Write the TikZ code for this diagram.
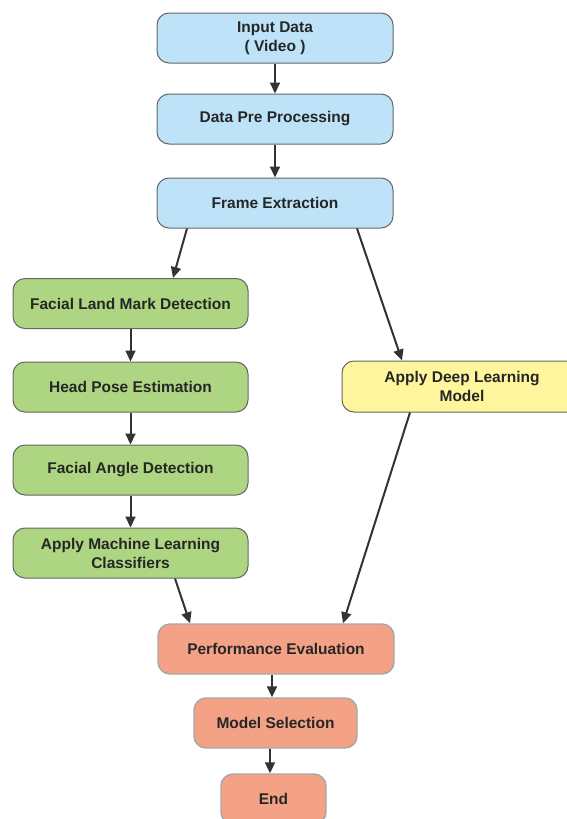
\documentclass[tikz,border=0pt]{standalone}
\usepackage{fontspec}
\setmainfont{Liberation Sans}
\usetikzlibrary{arrows.meta}
\definecolor{cblue}{HTML}{BEE3F8}
\definecolor{cgreen}{HTML}{AED581}
\definecolor{cyellow}{HTML}{FFF59D}
\definecolor{corange}{HTML}{F4A285}
\definecolor{cline}{HTML}{333333}
\begin{document}
\begin{tikzpicture}[x=1pt,y=-1pt,
  box/.style={draw=#1, line width=1pt, rounded corners=12pt, inner sep=0pt, align=center,
    font=\fontsize{15.5}{19}\selectfont\bfseries, text=black!85},
  bluebox/.style={box=gray!80!black, fill=cblue, minimum width=236pt, minimum height=50pt},
  greenbox/.style={box=gray!80!black, fill=cgreen, minimum width=235pt, minimum height=50pt},
  yellowbox/.style={box=gray!80!black, fill=cyellow, minimum width=240pt, minimum height=51pt},
  orangebox/.style={box=gray!70, line width=1.4pt, fill=corange, minimum height=50pt},
  arr/.style={-{Triangle[length=11pt,width=10pt]}, line width=2pt, draw=cline}]
\useasboundingbox (0,0) rectangle (566,819);
\node[bluebox] (in) at (275,38) {Input Data\\( Video )};
\node[bluebox] (pre) at (275,119) {Data Pre Processing};
\node[bluebox] (fe) at (275,203) {Frame Extraction};
\node[greenbox] (fl) at (130.5,303.5) {Facial Land Mark Detection};
\node[greenbox] (hp) at (130.5,387) {Head Pose Estimation};
\node[greenbox] (fa) at (130.5,470) {Facial Angle Detection};
\node[greenbox] (ml) at (130.5,553) {Apply Machine Learning\\Classifiers};
\node[yellowbox] (dl) at (462,386.5) {Apply Deep Learning\\Model};
\node[orangebox, minimum width=236pt] (pe) at (276,649) {Performance Evaluation};
\node[orangebox, minimum width=163pt] (ms) at (275.5,723) {Model Selection};
\node[orangebox, minimum width=105pt] (end) at (273.5,799) {End};
\draw[arr] (in.south) -- (pre.north);
\draw[arr] (pre.south) -- (fe.north);
\draw[arr] (fe.south -| 187,0) -- (fl.north -| 173,0);
\draw[arr] (fe.south -| 357,0) -- (dl.north -| 402,0);
\draw[arr] (fl.south) -- (hp.north);
\draw[arr] (hp.south) -- (fa.north);
\draw[arr] (fa.south) -- (ml.north);
\draw[arr] (ml.south -| 175,0) -- (pe.north -| 190,0);
\draw[arr] (dl.south -| 410,0) -- (pe.north -| 343,0);
\draw[arr] (pe.south -| 272,0) -- (ms.north -| 272,0);
\draw[arr] (ms.south -| 270,0) -- (end.north -| 270,0);
\end{tikzpicture}
\end{document}
